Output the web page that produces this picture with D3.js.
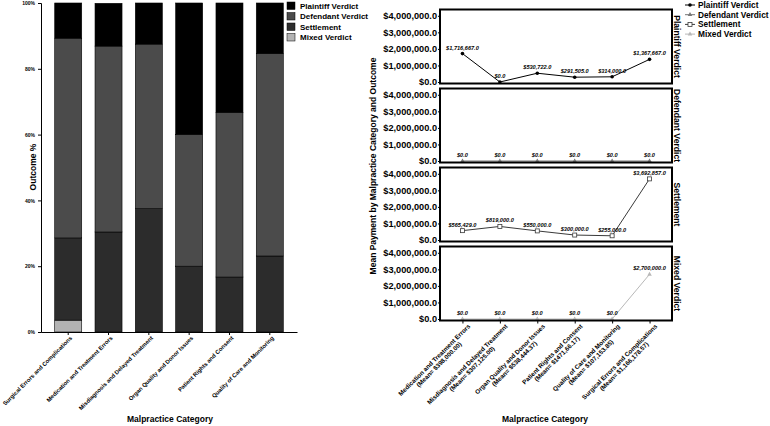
<!DOCTYPE html>
<html>
<head>
<meta charset="utf-8">
<style>
body { margin: 0; background: #fff; }
text { font-family: "Liberation Sans", Arial, sans-serif; font-weight: bold; fill: #000; }
</style>
</head>
<body>
<svg width="770" height="426"></svg>
<script src="https://d3js.org/d3.v7.min.js"></script>
<script>

var outcomes = ["Plaintiff Verdict", "Defendant Verdict", "Settlement", "Mixed Verdict"];

// left chart: outcome shares (%) per category
var barCategories = ["Surgical Errors and Complications", "Medication and Treatment Errors",
  "Misdiagnosis and Delayed Treatment", "Organ Quality and Donor Issues",
  "Patient Rights and Consent", "Quality of Care and Monitoring"];
var pctPlaintiff  = [10.7, 13.0, 12.5, 40.0, 33.3, 15.4];
var pctDefendant  = [60.7, 56.5, 50.0, 40.0, 50.0, 61.5];
var pctSettlement = [25.0, 30.4, 37.5, 20.0, 16.7, 23.1];
var pctMixed      = [3.6, 0, 0, 0, 0, 0];
var pctTicks = [0, 20, 40, 60, 80, 100];

// right chart: mean payment per category and outcome
var lineCategories = ["Medication and Treatment Errors", "Misdiagnosis and Delayed Treatment",
  "Organ Quality and Donor Issues", "Patient Rights and Consent",
  "Quality of Care and Monitoring", "Surgical Errors and Complications"];
var lineMeans = ["$398,000.00", "$307,125.00", "$538,444.37", "$1471,66.17", "$107,153.85", "$1,166,178.57"];
var payPlaintiff  = [1716667, 0, 530722, 291505, 314000, 1367667];
var payDefendant  = [0, 0, 0, 0, 0, 0];
var paySettlement = [565429, 819000, 550000, 300000, 255000, 3692857];
var payMixed      = [0, 0, 0, 0, 0, 2700000];
var payTicks = [0, 1000000, 2000000, 3000000, 4000000];

var svg = d3.select("svg");

// ---------- left: stacked bars ----------
var barColor = {"Plaintiff Verdict": "#000000", "Defendant Verdict": "#4b4b4b",
                "Settlement": "#2c2c2c", "Mixed Verdict": "#b3b3b3"};

var rows = barCategories.map(function(c, i) {
  return {cat: c, "Plaintiff Verdict": pctPlaintiff[i], "Defendant Verdict": pctDefendant[i],
          "Settlement": pctSettlement[i], "Mixed Verdict": pctMixed[i]};
});

var x = d3.scaleBand().domain(barCategories).range([41, 297]).paddingInner(0.33).paddingOuter(0.34);
var y = d3.scaleLinear().domain([0, 100]).range([332, 3]);

var stack = d3.stack().keys(["Mixed Verdict", "Settlement", "Defendant Verdict", "Plaintiff Verdict"]);

svg.append("g").selectAll("g")
  .data(stack(rows))
  .enter().append("g")
    .attr("fill", function(d) { return barColor[d.key]; })
  .selectAll("rect")
  .data(function(d) { return d; })
  .enter().append("rect")
    .attr("x", function(d) { return x(d.data.cat); })
    .attr("width", x.bandwidth())
    .attr("y", function(d) { return y(d[1]); })
    .attr("height", function(d) { return y(d[0]) - y(d[1]); })
    .attr("stroke", "#000")
    .attr("stroke-width", 0.6);

var yAxis = svg.append("g")
    .attr("transform", "translate(41,0)")
    .call(d3.axisLeft(y).tickValues(pctTicks).tickSize(3).tickFormat(function(d) { return d + "%"; }));
yAxis.selectAll("text").attr("font-size", 5).attr("font-family", null);

var xAxis = svg.append("g")
    .attr("transform", "translate(0,332)")
    .call(d3.axisBottom(x).tickSize(3).tickSizeOuter(0));
xAxis.selectAll("text")
    .attr("font-size", 5.8).attr("font-family", null)
    .attr("text-anchor", "end")
    .attr("transform", "translate(3,5) rotate(-45)")
    .attr("dy", "0.35em").attr("y", 0);

svg.append("text").attr("transform", "translate(36,167) rotate(-90)")
  .attr("text-anchor", "middle").attr("font-size", 8.5).text("Outcome %");
svg.append("text").attr("x", 170).attr("y", 422)
  .attr("text-anchor", "middle").attr("font-size", 8.5).text("Malpractice Category");

var leg = svg.append("g").selectAll("g").data(outcomes).enter().append("g")
  .attr("transform", function(d, i) { return "translate(287," + (2 + i * 10.5) + ")"; });
leg.append("rect").attr("width", 8).attr("height", 7.5)
  .attr("fill", function(d) { return barColor[d]; }).attr("stroke", "#000").attr("stroke-width", 0.5);
leg.append("text").attr("x", 13).attr("y", 6.5).attr("font-size", 8).text(function(d) { return d; });

// ---------- right: panelled lines ----------
var series = [
  {name: "Plaintiff Verdict", values: payPlaintiff, color: "#000", marker: "circle"},
  {name: "Defendant Verdict", values: payDefendant, color: "#777", marker: "triangle"},
  {name: "Settlement", values: paySettlement, color: "#3a3a3a", marker: "square"},
  {name: "Mixed Verdict", values: payMixed, color: "#b8b8b8", marker: "triangle"}
];

var px = d3.scalePoint().domain(lineCategories).range([440, 672]).padding(0.6);
var panelH = 74, panelStep = 79, panelTop0 = 9.5;
var money = d3.format(",.1f");

function drawMarker(g, s, cx, cy) {
  if (s.marker === "circle") {
    g.append("circle").attr("cx", cx).attr("cy", cy).attr("r", 1.8).attr("fill", s.color);
  } else if (s.marker === "square") {
    g.append("rect").attr("x", cx - 2).attr("y", cy - 2).attr("width", 4).attr("height", 4)
      .attr("fill", "#fff").attr("stroke", s.color).attr("stroke-width", 0.8);
  } else {
    g.append("path").attr("d", d3.symbol(d3.symbolTriangle, 9)())
      .attr("transform", "translate(" + cx + "," + cy + ")").attr("fill", s.color);
  }
}

series.forEach(function(s, i) {
  var top = panelTop0 + i * panelStep;
  var py = d3.scaleLinear().domain([-90000, 4380000]).range([top + panelH, top]);
  var g = svg.append("g");

  var ya = g.append("g").attr("transform", "translate(440,0)")
    .call(d3.axisLeft(py).tickValues(payTicks).tickSize(2).tickFormat(function(d) { return "$" + money(d); }));
  ya.select(".domain").remove();
  ya.selectAll("text").attr("font-size", 9.2).attr("font-family", null).attr("x", -3);

  g.append("path")
    .datum(s.values)
    .attr("fill", "none").attr("stroke", s.color).attr("stroke-width", 1)
    .attr("d", d3.line().x(function(d, j) { return px(lineCategories[j]); }).y(function(d) { return py(d); }));

  s.values.forEach(function(v, j) {
    drawMarker(g, s, px(lineCategories[j]), py(v));
    g.append("text").attr("x", px(lineCategories[j])).attr("y", py(v) - 4)
      .attr("text-anchor", "middle").attr("font-size", 5.6).attr("font-style", "italic")
      .text("$" + money(v));
  });

  g.append("rect").attr("x", 440).attr("y", top).attr("width", 232).attr("height", panelH)
    .attr("fill", "none").attr("stroke", "#000").attr("stroke-width", 2);

  g.append("text").attr("transform", "translate(673.5," + (top + panelH / 2) + ") rotate(90)")
    .attr("text-anchor", "middle").attr("font-size", 8.6).text(s.name);
});

var bottom = panelTop0 + 3 * panelStep + panelH;
var pxAxis = svg.append("g").attr("transform", "translate(0," + bottom + ")")
  .call(d3.axisBottom(px).tickSize(3).tickSizeOuter(0).tickFormat(""));
pxAxis.select(".domain").remove();

lineCategories.forEach(function(c, j) {
  var t = svg.append("g")
    .attr("transform", "translate(" + (px(c) + 5) + "," + (bottom + 3) + ") rotate(-45)")
    .append("text").attr("font-size", 6.3).attr("text-anchor", "middle");
  var l1 = t.append("tspan").attr("y", 4.5).text(c);
  var l2 = t.append("tspan").attr("y", 11).text("(Mean= " + lineMeans[j] + ")");
  var w = Math.max(l1.node().getComputedTextLength(), l2.node().getComputedTextLength());
  l1.attr("x", -w / 2); l2.attr("x", -w / 2);
});

svg.append("text").attr("transform", "translate(376,166) rotate(-90)")
  .attr("text-anchor", "middle").attr("font-size", 8.5).text("Mean Payment by Malpractice Category and Outcome");
svg.append("text").attr("x", 545).attr("y", 422)
  .attr("text-anchor", "middle").attr("font-size", 8.5).text("Malpractice Category");

var leg2 = svg.append("g").selectAll("g").data(series).enter().append("g")
  .attr("transform", function(d, i) { return "translate(685," + (5 + i * 9.7) + ")"; });
leg2.append("line").attr("x1", 0).attr("x2", 10).attr("stroke", function(d) { return d.color; });
leg2.each(function(d) { drawMarker(d3.select(this), d, 5, 0); });
leg2.append("text").attr("x", 13).attr("y", 3).attr("font-size", 8.3).text(function(d) { return d.name; });

</script>
</body>
</html>
